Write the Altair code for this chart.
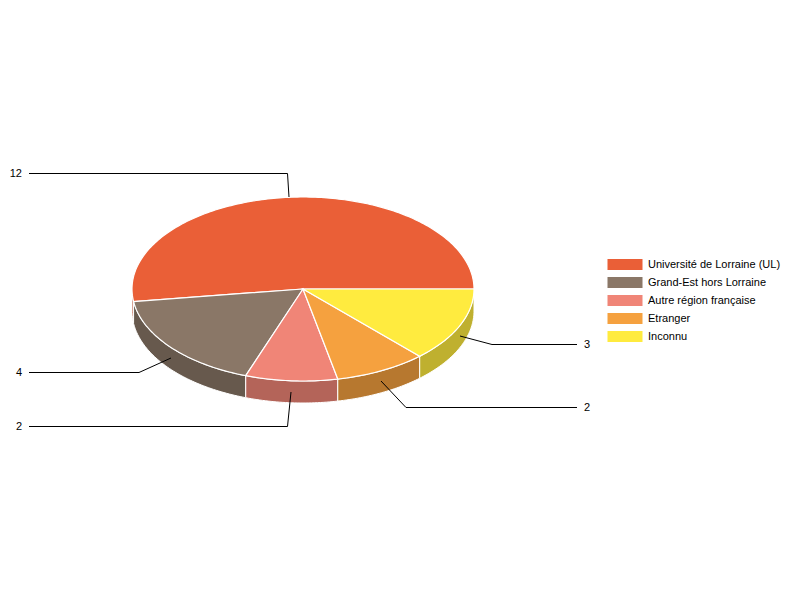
import math
import altair as alt

categories = ["Université de Lorraine (UL)", "Grand-Est hors Lorraine", "Autre région française", "Etranger", "Inconnu"]
values = [12, 4, 2, 2, 3]
colors = ["#EA5F37", "#8A7767", "#F08577", "#F5A13F", "#FFEB3F"]
side_colors = ["#B0472A", "#67594D", "#B46459", "#B7782F", "#BFB02F"]

left_labels = ["12", "4", "2"]
left_label_y = [174, 373, 427]
right_labels = ["2", "3"]
right_label_y = [408, 345]
leaders = [
    [[289, 197], [287.5, 173.5], [29, 173.5]],
    [[171, 358], [139, 372.5], [29, 372.5]],
    [[291, 392], [287.5, 426.5], [29, 426.5]],
    [[381, 381], [406, 407.5], [577, 407.5]],
    [[460, 336], [492, 344.5], [577, 344.5]],
]

CX, CY, RX, RY, DEPTH = 303, 289, 171, 92, 22


def arc(a0, a1, dy=0):
    n = max(2, int(abs(a1 - a0)) + 1)
    pts = []
    for i in range(n + 1):
        a = math.radians(a0 + (a1 - a0) * i / n)
        pts.append([CX + RX * math.cos(a), CY - RY * math.sin(a) + dy])
    return pts


def feature(kind, coords, **props):
    return {"type": "Feature", "geometry": {"type": kind, "coordinates": coords}, "properties": props}


total = sum(values)
tops, sides = [], []
start = 0.0
for name, v, sc in zip(categories, values, side_colors):
    end = start + 360.0 * v / total
    ring = [[CX, CY]] + arc(start, end) + [[CX, CY]]
    tops.append(feature("Polygon", [ring], name=name))
    a0, a1 = max(start, 180.0), min(end, 360.0)
    if a1 > a0:
        wall = arc(a0, a1) + arc(a1, a0, DEPTH)
        wall.append(wall[0])
        sides.append(feature("Polygon", [wall], color=sc))
    start = end

proj = dict(type="identity", scale=1, translate=[-8, -8])

side_layer = alt.Chart(alt.Data(values=sides)).mark_geoshape(stroke="white", strokeWidth=1).encode(
    fill=alt.Fill("properties.color:N", scale=None)
).project(**proj)

top_layer = alt.Chart(alt.Data(values=tops)).mark_geoshape(stroke="white", strokeWidth=1.2).encode(
    fill=alt.Fill(
        "properties.name:N",
        scale=alt.Scale(domain=categories, range=colors),
        sort=categories,
        legend=alt.Legend(
            title=None,
            orient="none",
            legendX=611.5,
            legendY=251,
            symbolType="M-3.5,-1.1H3.5V1.1H-3.5Z",
            symbolSize=100,
            symbolStrokeWidth=0,
            symbolOpacity=1,
            labelOffset=17.5,
            labelFont="Liberation Sans",
            labelFontSize=11,
            labelColor="black",
            rowPadding=6,
            labelLimit=300,
        ),
    )
).project(**proj)

leader_layer = alt.Chart(
    alt.Data(values=[feature("LineString", l) for l in leaders])
).mark_geoshape(filled=False, stroke="black", strokeWidth=1).project(**proj)

left_text = alt.Chart(
    alt.Data(values=[{"t": t, "lon": 22, "lat": y} for t, y in zip(left_labels, left_label_y)])
).mark_text(align="right", baseline="middle", font="Liberation Sans", fontSize=11, color="black").encode(
    longitude="lon:Q", latitude="lat:Q", text="t:N"
).project(**proj)

right_text = alt.Chart(
    alt.Data(values=[{"t": t, "lon": 584, "lat": y} for t, y in zip(right_labels, right_label_y)])
).mark_text(align="left", baseline="middle", font="Liberation Sans", fontSize=11, color="black").encode(
    longitude="lon:Q", latitude="lat:Q", text="t:N"
).project(**proj)

chart = alt.layer(side_layer, top_layer, leader_layer, left_text, right_text).properties(
    width=784, height=584, padding=0, autosize=alt.AutoSizeParams(type="none")
).configure_view(stroke=None)

chart.save("out.html", embed_options={"renderer": "svg", "actions": False})
